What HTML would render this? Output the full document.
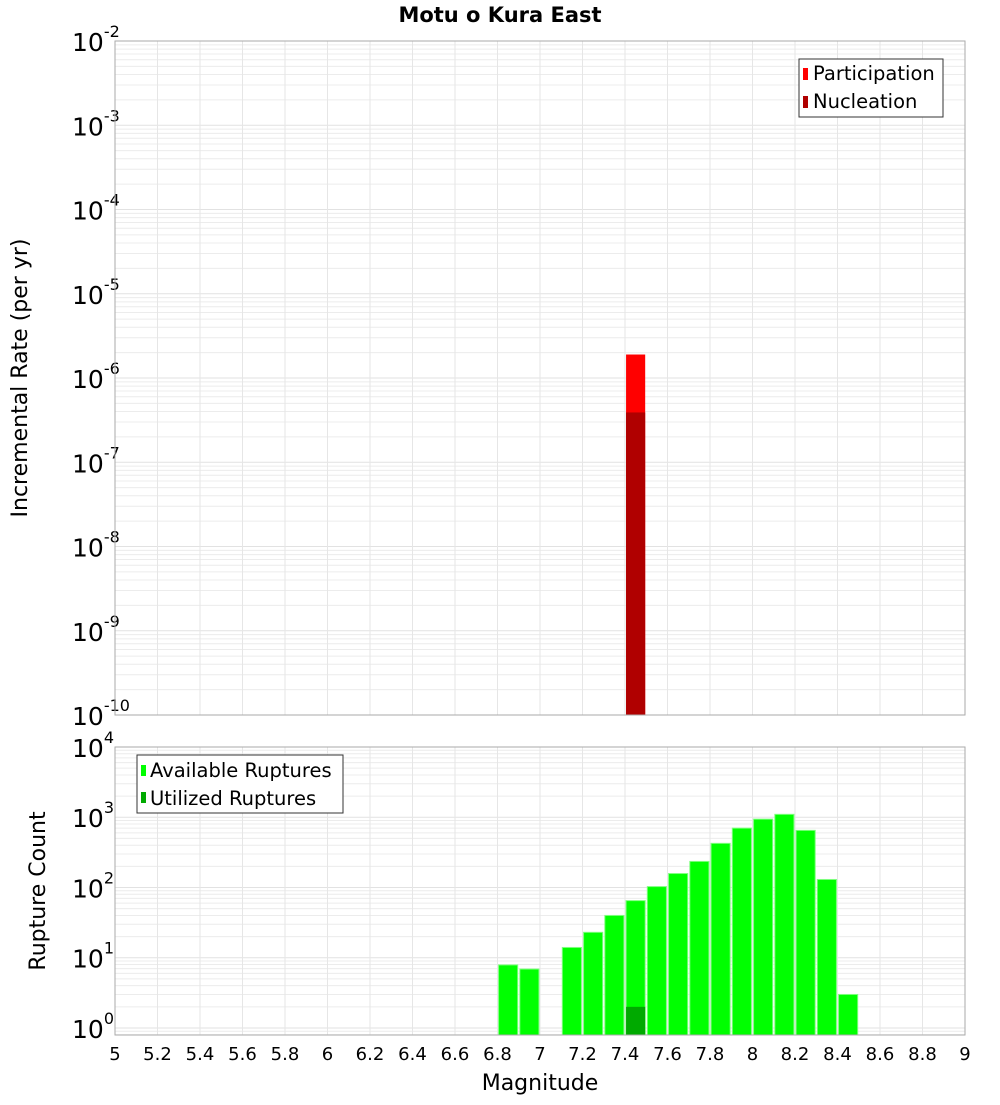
<!DOCTYPE html>
<html><head><meta charset="utf-8">
<style>
body{margin:0;background:#fff;}
svg text{font-family:"DejaVu Sans","Liberation Sans",sans-serif;}
</style></head>
<body>
<svg id="chart" width="1000" height="1100" xmlns="http://www.w3.org/2000/svg">
<rect width="1000" height="1100" fill="#fff"/>
<text x="500" y="22" text-anchor="middle" font-size="21" font-weight="bold">Motu o Kura East</text>
<g id="topPlot"></g>
<g id="botPlot"></g>
<text transform="translate(27,378) rotate(-90)" text-anchor="middle" font-size="22">Incremental Rate (per yr)</text>
<text transform="translate(45,891) rotate(-90)" text-anchor="middle" font-size="22">Rupture Count</text>
<text x="540" y="1090" text-anchor="middle" font-size="22">Magnitude</text>
<g>
<rect x="799" y="59" width="144" height="58" fill="#fff" stroke="#333" stroke-width="1"/>
<rect x="803" y="68" width="5" height="12" fill="#ff0000"/>
<text x="813" y="80" font-size="19.5">Participation</text>
<rect x="803" y="96" width="5" height="12" fill="#b00000"/>
<text x="813" y="108" font-size="19.5">Nucleation</text>
</g>
<g>
<rect x="137" y="755" width="206" height="58" fill="#fff" stroke="#333" stroke-width="1"/>
<rect x="141" y="765" width="5" height="11" fill="#00ff00"/>
<text x="150" y="777" font-size="19.5">Available Ruptures</text>
<rect x="141" y="792" width="5" height="11" fill="#00aa00"/>
<text x="150" y="805" font-size="19.5">Utilized Ruptures</text>
</g>
</svg>
<script>
const xTicks=["5","5.2","5.4","5.6","5.8","6","6.2","6.4","6.6","6.8","7","7.2","7.4","7.6","7.8","8","8.2","8.4","8.6","8.8","9"];
const rateBins=[7.45];
const participation=[1.9e-6];
const nucleation=[3.9e-7];
const countBins=[6.85,6.95,7.15,7.25,7.35,7.45,7.55,7.65,7.75,7.85,7.95,8.05,8.15,8.25,8.35,8.45];
const available=[7.9,6.9,14,23,40,65,103,158,235,425,700,940,1100,650,130,3];
const utilizedBins=[7.45];
const utilized=[2];

const NS="http://www.w3.org/2000/svg";
const X0=115,X1=965;
const xs=m=>X0+(m-5)/4*(X1-X0);
function el(p,t,a){const e=document.createElementNS(NS,t);for(const k in a)e.setAttribute(k,a[k]);p.appendChild(e);return e;}
function plot(g,yTop,yBot,lmin,lmax,name){
  const ys=v=>yBot-(Math.log10(v)-lmin)/(lmax-lmin)*(yBot-yTop);
  const grid=el(g,'g',{});
  
  
  for(let d=Math.floor(lmin);d<lmax;d++)for(let k=1;k<10;k++){
    const v=k*Math.pow(10,d);const y=ys(v);
    if(y<yTop-0.5||y>yBot+0.5)continue;
    el(grid,'line',{x1:X0,x2:X1,y1:y,y2:y,stroke:k==1?'#e2e2e2':'#ececec','stroke-width':1});
  }
  xTicks.forEach(t=>{const x=xs(+t);el(grid,'line',{x1:x,x2:x,y1:yTop,y2:yBot,stroke:'#e6e6e6','stroke-width':1});});
  for(let d=Math.ceil(lmin);d<=Math.floor(lmax);d++){
    const y=ys(Math.pow(10,d));
    const t=el(g,'text',{x:72,y:y+10,'font-size':25});
    
    
    t.textContent='10';
    const s=el(t,'tspan',{dy:-14,'font-size':16});s.textContent=String(d);
  }
  return ys;
}
const topG=document.getElementById('topPlot'),botG=document.getElementById('botPlot');
const ysT=plot(topG,41,715,-10,-2,'rate');
rateBins.forEach((m,i)=>{
  const r=el(topG,'rect',{x:xs(m-0.045),y:ysT(participation[i]),width:xs(m+0.045)-xs(m-0.045),height:715-ysT(participation[i]),fill:'#ff0000'});
  
  
  const n=el(topG,'rect',{x:xs(m-0.045),y:ysT(nucleation[i]),width:xs(m+0.045)-xs(m-0.045),height:715-ysT(nucleation[i]),fill:'#b00000'});
  
  
});
el(topG,'rect',{x:X0,y:41,width:X1-X0,height:674,fill:'none',stroke:'#aaa'});
const B0=747,B1=1035;
const ysB=plot(botG,B0,B1,-(B1-1028)/70,4,'count');
countBins.forEach((m,i)=>{
  const r=el(botG,'rect',{x:xs(m-0.045),y:ysB(available[i]),width:xs(m+0.045)-xs(m-0.045),height:B1-ysB(available[i]),fill:'#00ff00',stroke:'#7fff7f','stroke-width':1});
  
  
});
utilizedBins.forEach((m,i)=>{
  const r=el(botG,'rect',{x:xs(m-0.045),y:ysB(utilized[i]),width:xs(m+0.045)-xs(m-0.045),height:B1-ysB(utilized[i]),fill:'#00aa00'});
  
  
});
el(botG,'rect',{x:X0,y:B0,width:X1-X0,height:B1-B0,fill:'none',stroke:'#aaa'});
xTicks.forEach(t=>{
  const e=el(botG,'text',{x:xs(+t),y:1060,'text-anchor':'middle','font-size':18});
  
  
  e.textContent=t;
});
</script>
</body></html>
